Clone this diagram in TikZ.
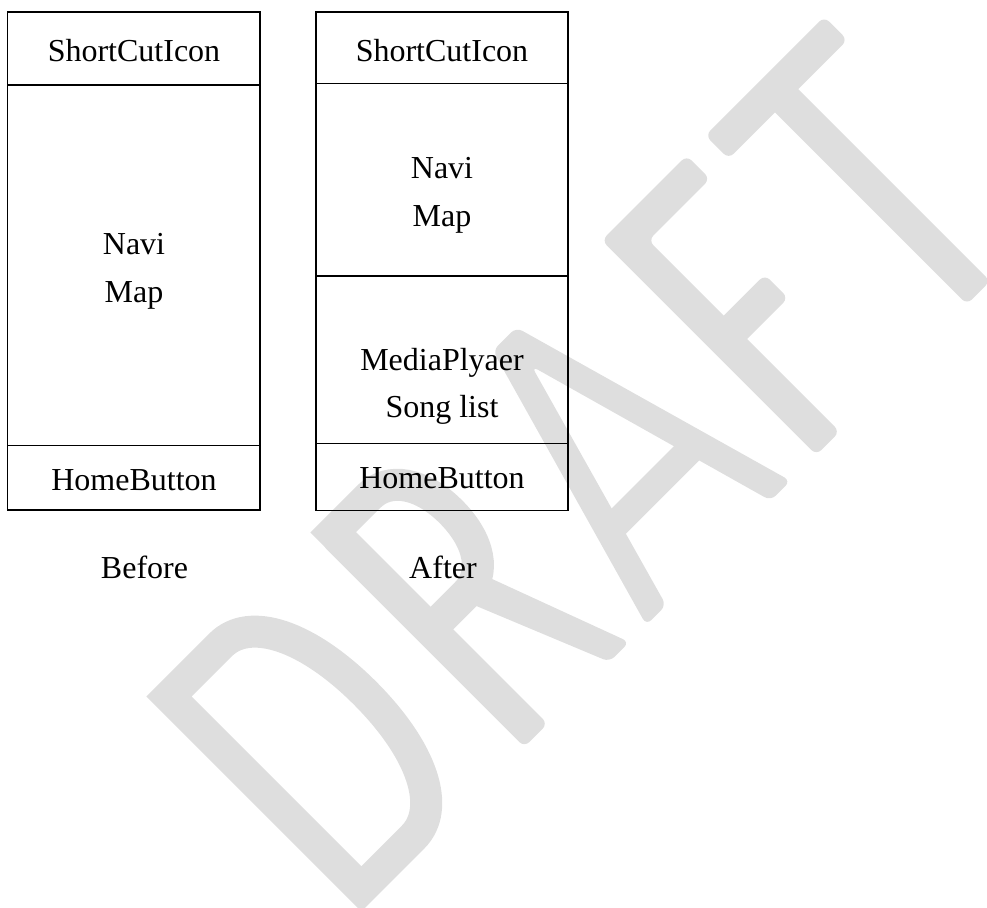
\documentclass[tikz,border=0pt]{standalone}
\usepackage{fontspec}
\setmainfont{Liberation Serif}
\definecolor{wmgray}{RGB}{222,222,222}
\begin{document}
\begin{tikzpicture}[x=1pt,y=-1pt,
  wm/.style={draw=wmgray,line width=32pt,line cap=butt,line join=miter},
  wmf/.style={fill=wmgray,rounded corners=7pt},
  box/.style={draw=black,line width=1.2pt,rectangle,inner sep=0pt,outer sep=0pt},
  lbl/.style={anchor=base,inner sep=0pt,font=\fontsize{32}{38}\selectfont}]
\useasboundingbox (0,0) rectangle (987,907);
% DRAFT watermark
\begin{scope}
\clip (0,0) rectangle (987,907);
\begin{scope}[rotate=45]
% D
\draw[wm] (-373,612) -- (-300,612) .. controls (-259.2,612) and (-232,666.4) .. (-232,748)
  .. controls (-232,829.6) and (-259.2,884) .. (-300,884) -- (-373,884) -- cycle;
% R
\fill[wmf] (-157.5,612) -- (-124.5,612) -- (-124.5,899) -- (-157.5,899) -- cycle;
\fill[wmf] (-100,745) -- (-66,745) -- (-9,899) -- (-37,899) -- cycle;
\draw[wm] (-141,680) -- (-141,612) -- (-90,612) .. controls (-61.8,612) and (-43,639.5) .. (-43,680.75)
  .. controls (-43,722) and (-61.8,749.5) .. (-90,749.5) -- (-141,749.5);
% A
\fill[wmf] (15,899) -- (100.5,596.5) -- (133.5,596.5) -- (219,899) -- (191,899)
  -- (117,635) -- (43,899) -- cycle;
\fill[wmgray] (62,792) rectangle (172,820);
% F
\fill[wmf] (255.5,595.5) -- (375.6,595.5) -- (375.6,628.5) -- (288.5,628.5) -- (288.5,899)
  -- (255.5,899) -- cycle;
\fill[wmf] (280,735) -- (346.6,735) -- (346.6,768) -- (280,768) -- cycle;
% T
\fill[wmf] (403,594.5) -- (571,594.5) -- (571,627.5) -- (403,627.5) -- cycle;
\fill[wmf] (468.5,615) -- (501.5,615) -- (501.5,899) -- (468.5,899) -- cycle;
\end{scope}
\end{scope}
% Before column
\node[box,minimum width=252.5pt,minimum height=73pt] (scA) at (133.75,48.5) {};
\node[box,minimum width=252.5pt,minimum height=360.5pt] (nmA) at (133.75,265.25) {};
\node[box,minimum width=252.5pt,minimum height=64.5pt] (hbA) at (133.75,477.75) {};
% After column
\node[box,minimum width=252pt,minimum height=71.5pt] (scB) at (442,47.75) {};
\node[box,minimum width=252pt,minimum height=192.5pt] (nmB) at (442,179.75) {};
\node[box,minimum width=252pt,minimum height=167.5pt] (mpB) at (442,359.75) {};
\node[box,minimum width=252pt,minimum height=66.8pt] (hbB) at (442,476.9) {};
% texts
\node[lbl] (tscA) at (134,61) {ShortCutIcon};
\node[lbl] (tnA) at (134,254) {Navi};
\node[lbl] (tmA) at (134,302) {Map};
\node[lbl] (thA) at (134,490.7) {HomeButton};
\node[lbl] (tscB) at (442,61) {ShortCutIcon};
\node[lbl] (tnB) at (442,178.3) {Navi};
\node[lbl] (tmB) at (442,226.7) {Map};
\node[lbl] (tmpB) at (442,370) {MediaPlyaer};
\node[lbl] (tslB) at (442,417.5) {Song list};
\node[lbl] (thB) at (442,488.3) {HomeButton};
\node[lbl] (before) at (144.5,578) {Before};
\node[lbl] (after) at (443,578.3) {After};
\end{tikzpicture}
\end{document}
